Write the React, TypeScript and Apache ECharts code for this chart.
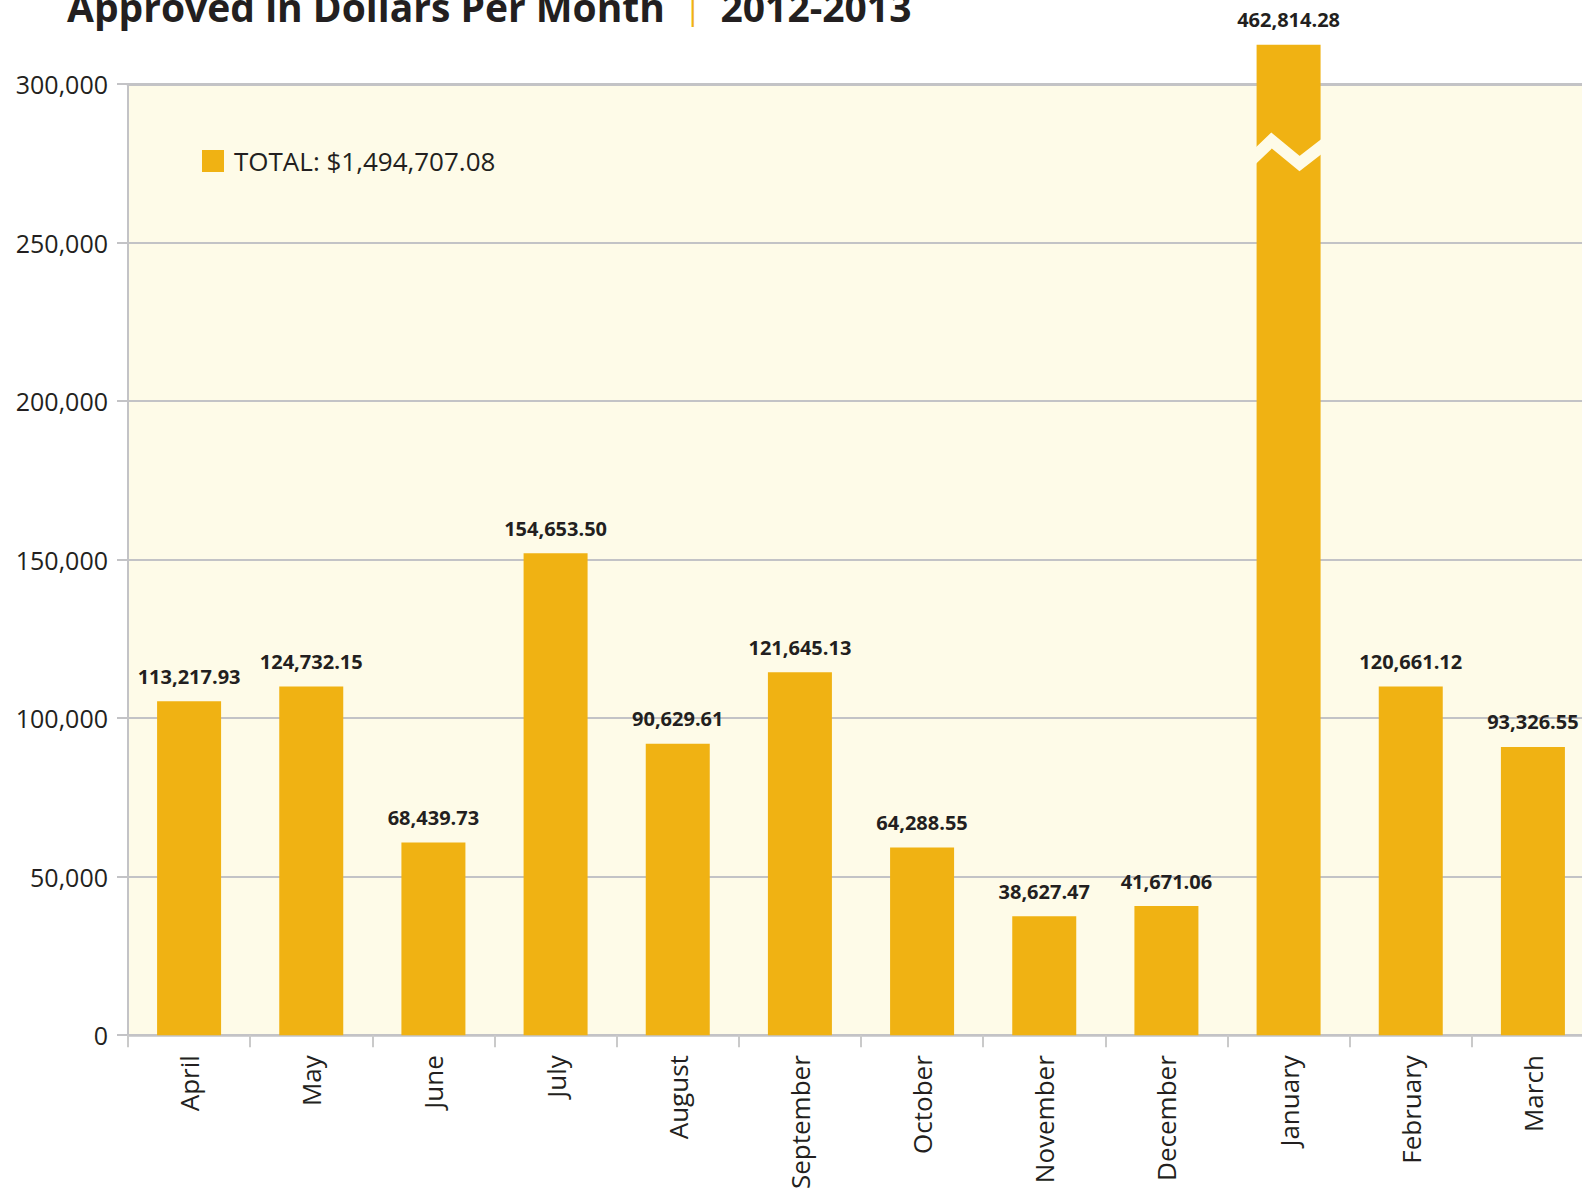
import React, { useEffect, useRef } from "react";
import * as echarts from "echarts";

const months = ["April", "May", "June", "July", "August", "September", "October", "November", "December", "January", "February", "March"];
// printed amounts (labels on top of the bars)
const amountLabels = ["113,217.93", "124,732.15", "68,439.73", "154,653.50", "90,629.61", "121,645.13", "64,288.55", "38,627.47", "41,671.06", "462,814.28", "120,661.12", "93,326.55"];
// bar heights as drawn in the picture (January is shown with an axis break)
const barHeights = [105300, 110000, 60800, 152000, 91900, 114500, 59200, 37500, 40700, 312400, 110000, 90900];
const yTicks = [0, 50000, 100000, 150000, 200000, 250000, 300000];
const totalLabel = "TOTAL: $1,494,707.08";
const titleMain = "Approved in Dollars Per Month";
const titleYears = "2012-2013";
const breakMonth = "January";
const breakValue = 278700;

const GOLD = "#F0B213";
const CREAM = "#FEFBE8";
const GRID = "#C3C3C6";
const TEXT = "#231F20";
const FONT = "'Open Sans', 'Noto Sans', sans-serif";

export default function App() {
  const ref = useRef<HTMLDivElement>(null);
  useEffect(() => {
    if (!ref.current) return;
    const chart = echarts.init(ref.current, null, { renderer: "svg" });
    const option: any = {
      animation: false,
      backgroundColor: "#ffffff",
      textStyle: { fontFamily: FONT },
      title: {
        left: 62,
        top: -18,
        text: `{a|${titleMain}}{p||}{a|${titleYears}}`,
        textStyle: {
          rich: {
            a: { fontFamily: FONT, fontSize: 39, fontWeight: "bold", color: TEXT },
            p: { fontFamily: FONT, fontSize: 32, fontWeight: "normal", color: GOLD, padding: [0, 19, 0, 19] },
          },
        },
      },
      legend: {
        left: 202,
        top: 148,
        itemWidth: 22,
        itemHeight: 22,
        icon: "rect",
        itemGap: 0,
        padding: 0,
        textStyle: { fontFamily: FONT, fontSize: 26, color: TEXT, padding: [0, 0, 0, 5] },
        data: [totalLabel],
      },
      grid: {
        left: 128,
        right: 0,
        top: 84,
        bottom: 156,
        show: true,
        backgroundColor: CREAM,
        borderWidth: 0,
      },
      xAxis: [
        {
          type: "category",
          data: months,
          axisLine: { lineStyle: { color: GRID, width: 2.5 } },
          axisTick: { show: true, length: 12, lineStyle: { color: "#CACACA", width: 2 } },
          axisLabel: { rotate: 90, fontSize: 26, color: TEXT, fontFamily: FONT, margin: 20 },
          splitLine: { show: false },
        },
        {
          type: "category",
          position: "top",
          data: months,
          axisLine: { show: true, lineStyle: { color: GRID, width: 3 } },
          axisTick: { show: false },
          axisLabel: { show: false },
        },
      ],
      yAxis: {
        type: "value",
        min: yTicks[0],
        max: yTicks[yTicks.length - 1],
        interval: yTicks[1] - yTicks[0],
        axisLine: { show: true, lineStyle: { color: GRID, width: 2 } },
        axisTick: { show: true, length: 11, lineStyle: { color: GRID, width: 2 } },
        axisLabel: {
          fontSize: 25,
          color: TEXT,
          fontFamily: FONT,
          margin: 20,
          formatter: (v: number) => v.toLocaleString("en-US"),
        },
        splitLine: { show: true, lineStyle: { color: GRID, width: 2 } },
      },
      series: [
        {
          name: totalLabel,
          type: "bar",
          data: barHeights,
          barWidth: 64,
          clip: false,
          itemStyle: { color: GOLD },
          label: {
            show: true,
            position: "top",
            distance: 15,
            fontFamily: FONT,
            fontSize: 20,
            fontWeight: "bold",
            color: TEXT,
            formatter: (p: any) => amountLabels[p.dataIndex],
          },
        },
      ],
    };
    chart.setOption(option);
    const c = chart.convertToPixel({ xAxisIndex: 0, yAxisIndex: 0 }, [breakMonth, breakValue]) as number[];
    if (c) {
      const [cx, cy] = c;
      const rel = [
        [-42, 13],
        [-17, -11],
        [11, 12],
        [42, -12],
      ];
      chart.setOption({
        graphic: [
          {
            type: "polyline",
            z: 100,
            shape: { points: rel.map(([dx, dy]) => [cx + dx, cy + dy]) },
            style: { stroke: CREAM, lineWidth: 12, fill: "none", lineJoin: "miter" },
            silent: true,
          },
        ],
      });
    }
    return () => chart.dispose();
  }, []);
  return <div ref={ref} style={{ position: "fixed", left: 0, top: 0, width: 1594, height: 1192 }} />;
}
